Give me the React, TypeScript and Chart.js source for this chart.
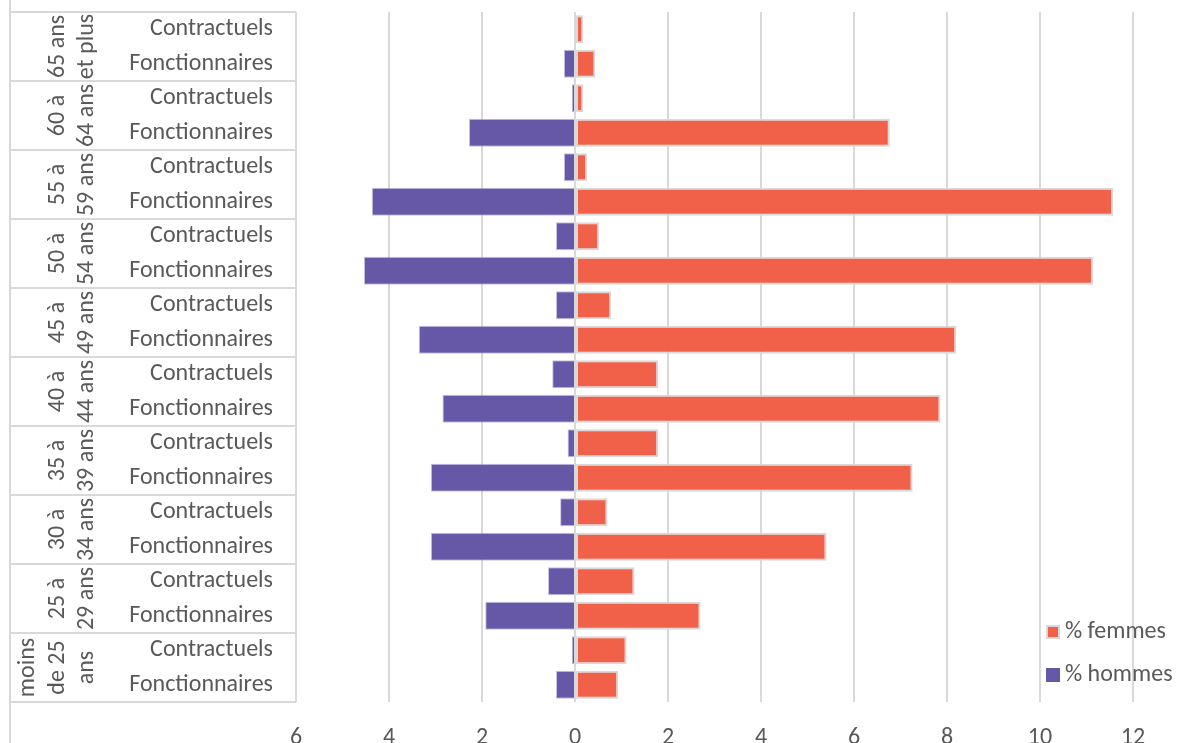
import React, { useEffect, useRef } from "react";
import { Chart, registerables } from "chart.js";

Chart.register(...registerables);

// ---- data ----
const ageGroups: string[][] = [
  ["65 ans", "et plus"],
  ["60 à", "64 ans"],
  ["55 à", "59 ans"],
  ["50 à", "54 ans"],
  ["45 à", "49 ans"],
  ["40 à", "44 ans"],
  ["35 à", "39 ans"],
  ["30 à", "34 ans"],
  ["25 à", "29 ans"],
  ["moins", "de 25", "ans"],
];
const statuts = ["Contractuels", "Fonctionnaires"];

// % hommes (shown to the left of 0)
const hommes = [
  0, 0.24,
  0.07, 2.28,
  0.24, 4.37,
  0.41, 4.54,
  0.41, 3.36,
  0.49, 2.85,
  0.16, 3.1,
  0.32, 3.1,
  0.58, 1.93,
  0.07, 0.41,
];
// % femmes (shown to the right of 0)
const femmes = [
  0.18, 0.44,
  0.18, 6.77,
  0.26, 11.57,
  0.52, 11.14,
  0.78, 8.2,
  1.79, 7.86,
  1.79, 7.26,
  0.7, 5.41,
  1.28, 2.7,
  1.11, 0.93,
];
const seriesNames = ["% femmes", "% hommes"];
const xMin = -6;
const xMax = 12;
const xStep = 2;

// ---- styles ----
const FONT = '"Carlito", Lato, "Noto Sans", sans-serif';
const FONT_SIZE = 24;
const TEXT = "#595959";
const GRID = "#D9D9D9";
const ORANGE = "#F16049";
const PURPLE = "#6658A6";

const labels: string[] = [];
ageGroups.forEach(() => statuts.forEach((s) => labels.push(s)));

const groupPlugin = {
  id: "groupAxis",
  afterDraw(chart: any) {
    const ctx: CanvasRenderingContext2D = chart.ctx;
    const ys = chart.scales.y;
    const area = chart.chartArea;
    ctx.save();
    ctx.strokeStyle = GRID;
    ctx.lineWidth = 2;
    ctx.beginPath();
    ctx.moveTo(10, 0);
    ctx.lineTo(10, chart.height);
    ctx.stroke();

    const n = ageGroups.length;
    const per = statuts.length;
    const bounds: number[] = [];
    for (let g = 0; g <= n; g++) {
      let yy: number;
      if (g === 0) yy = area.top;
      else if (g === n) yy = area.bottom;
      else yy = (ys.getPixelForValue(g * per - 1) + ys.getPixelForValue(g * per)) / 2;
      bounds.push(yy);
      ctx.beginPath();
      ctx.moveTo(10, yy);
      ctx.lineTo(area.left, yy);
      ctx.stroke();
    }

    ctx.fillStyle = TEXT;
    ctx.font = `${FONT_SIZE}px ${FONT}`;
    ctx.textAlign = "center";
    ctx.textBaseline = "alphabetic";
    for (let g = 0; g < n; g++) {
      const cy = (bounds[g] + bounds[g + 1]) / 2;
      const lines = ageGroups[g];
      lines.forEach((line, i) => {
        const bx = 93 - (lines.length - 1 - i) * 29.5;
        ctx.save();
        ctx.translate(bx, cy);
        ctx.rotate(-Math.PI / 2);
        ctx.fillText(line, 0, 0);
        ctx.restore();
      });
    }

    // legend
    const items = [
      { label: seriesNames[0], color: ORANGE, border: true, y: 632 },
      { label: seriesNames[1], color: PURPLE, border: false, y: 675 },
    ];
    ctx.textAlign = "left";
    ctx.textBaseline = "middle";
    items.forEach((it) => {
      if (it.border) {
        ctx.fillStyle = GRID;
        ctx.fillRect(1046, it.y - 7, 14, 14);
        ctx.fillStyle = it.color;
        ctx.fillRect(1048, it.y - 5, 10, 10);
      } else {
        ctx.fillStyle = it.color;
        ctx.fillRect(1046, it.y - 7, 14, 14);
      }
      ctx.fillStyle = TEXT;
      ctx.fillText(it.label, 1065, it.y);
    });
    ctx.restore();
  },
};

export default function App() {
  const ref = useRef<HTMLCanvasElement | null>(null);
  useEffect(() => {
    if (!ref.current) return;
    const chart = new Chart(ref.current, {
      type: "bar",
      data: {
        labels,
        datasets: [
          {
            label: seriesNames[0],
            data: femmes,
            backgroundColor: ORANGE,
            borderColor: GRID,
            borderWidth: 2,
            borderSkipped: false,
            barPercentage: 0.81,
            categoryPercentage: 1,
          },
          {
            label: seriesNames[1],
            data: hommes.map((v) => -v),
            backgroundColor: PURPLE,
            borderColor: "rgba(160,152,205,0.6)",
            borderWidth: 1,
            borderSkipped: "start",
            barPercentage: 0.81,
            categoryPercentage: 1,
          },
        ],
      },
      options: {
        indexAxis: "y",
        animation: false,
        responsive: false,
        devicePixelRatio: 1,
        layout: { padding: { top: 12, right: 44, left: 0, bottom: 0 } },
        plugins: { legend: { display: false }, tooltip: { enabled: false } },
        scales: {
          x: {
            stacked: true,
            min: xMin,
            max: xMax,
            ticks: {
              stepSize: xStep,
              color: TEXT,
              font: { family: FONT, size: FONT_SIZE },
              padding: 22,
              callback: (v: any) => String(Math.abs(Number(v))),
            },
            grid: { color: GRID, lineWidth: 2, drawTicks: false },
            border: { display: false },
            afterFit: (s: any) => {
              s.height = 41;
              s.paddingLeft = 0;
              s.paddingRight = 0;
            },
          },
          y: {
            stacked: true,
            ticks: {
              color: TEXT,
              font: { family: FONT, size: FONT_SIZE },
              padding: 23,
              autoSkip: false,
            },
            grid: { display: false, drawTicks: false },
            border: { display: false },
            afterFit: (s: any) => {
              s.width = 296;
              s.paddingTop = 0;
              s.paddingBottom = 0;
            },
          },
        },
      },
      plugins: [groupPlugin],
    });
    return () => chart.destroy();
  }, []);
  return (
    <div style={{ position: "fixed", left: 0, top: 0, width: 1177, height: 743, background: "#fff" }}>
      <canvas ref={ref} width={1177} height={743} style={{ display: "block" }} />
    </div>
  );
}
